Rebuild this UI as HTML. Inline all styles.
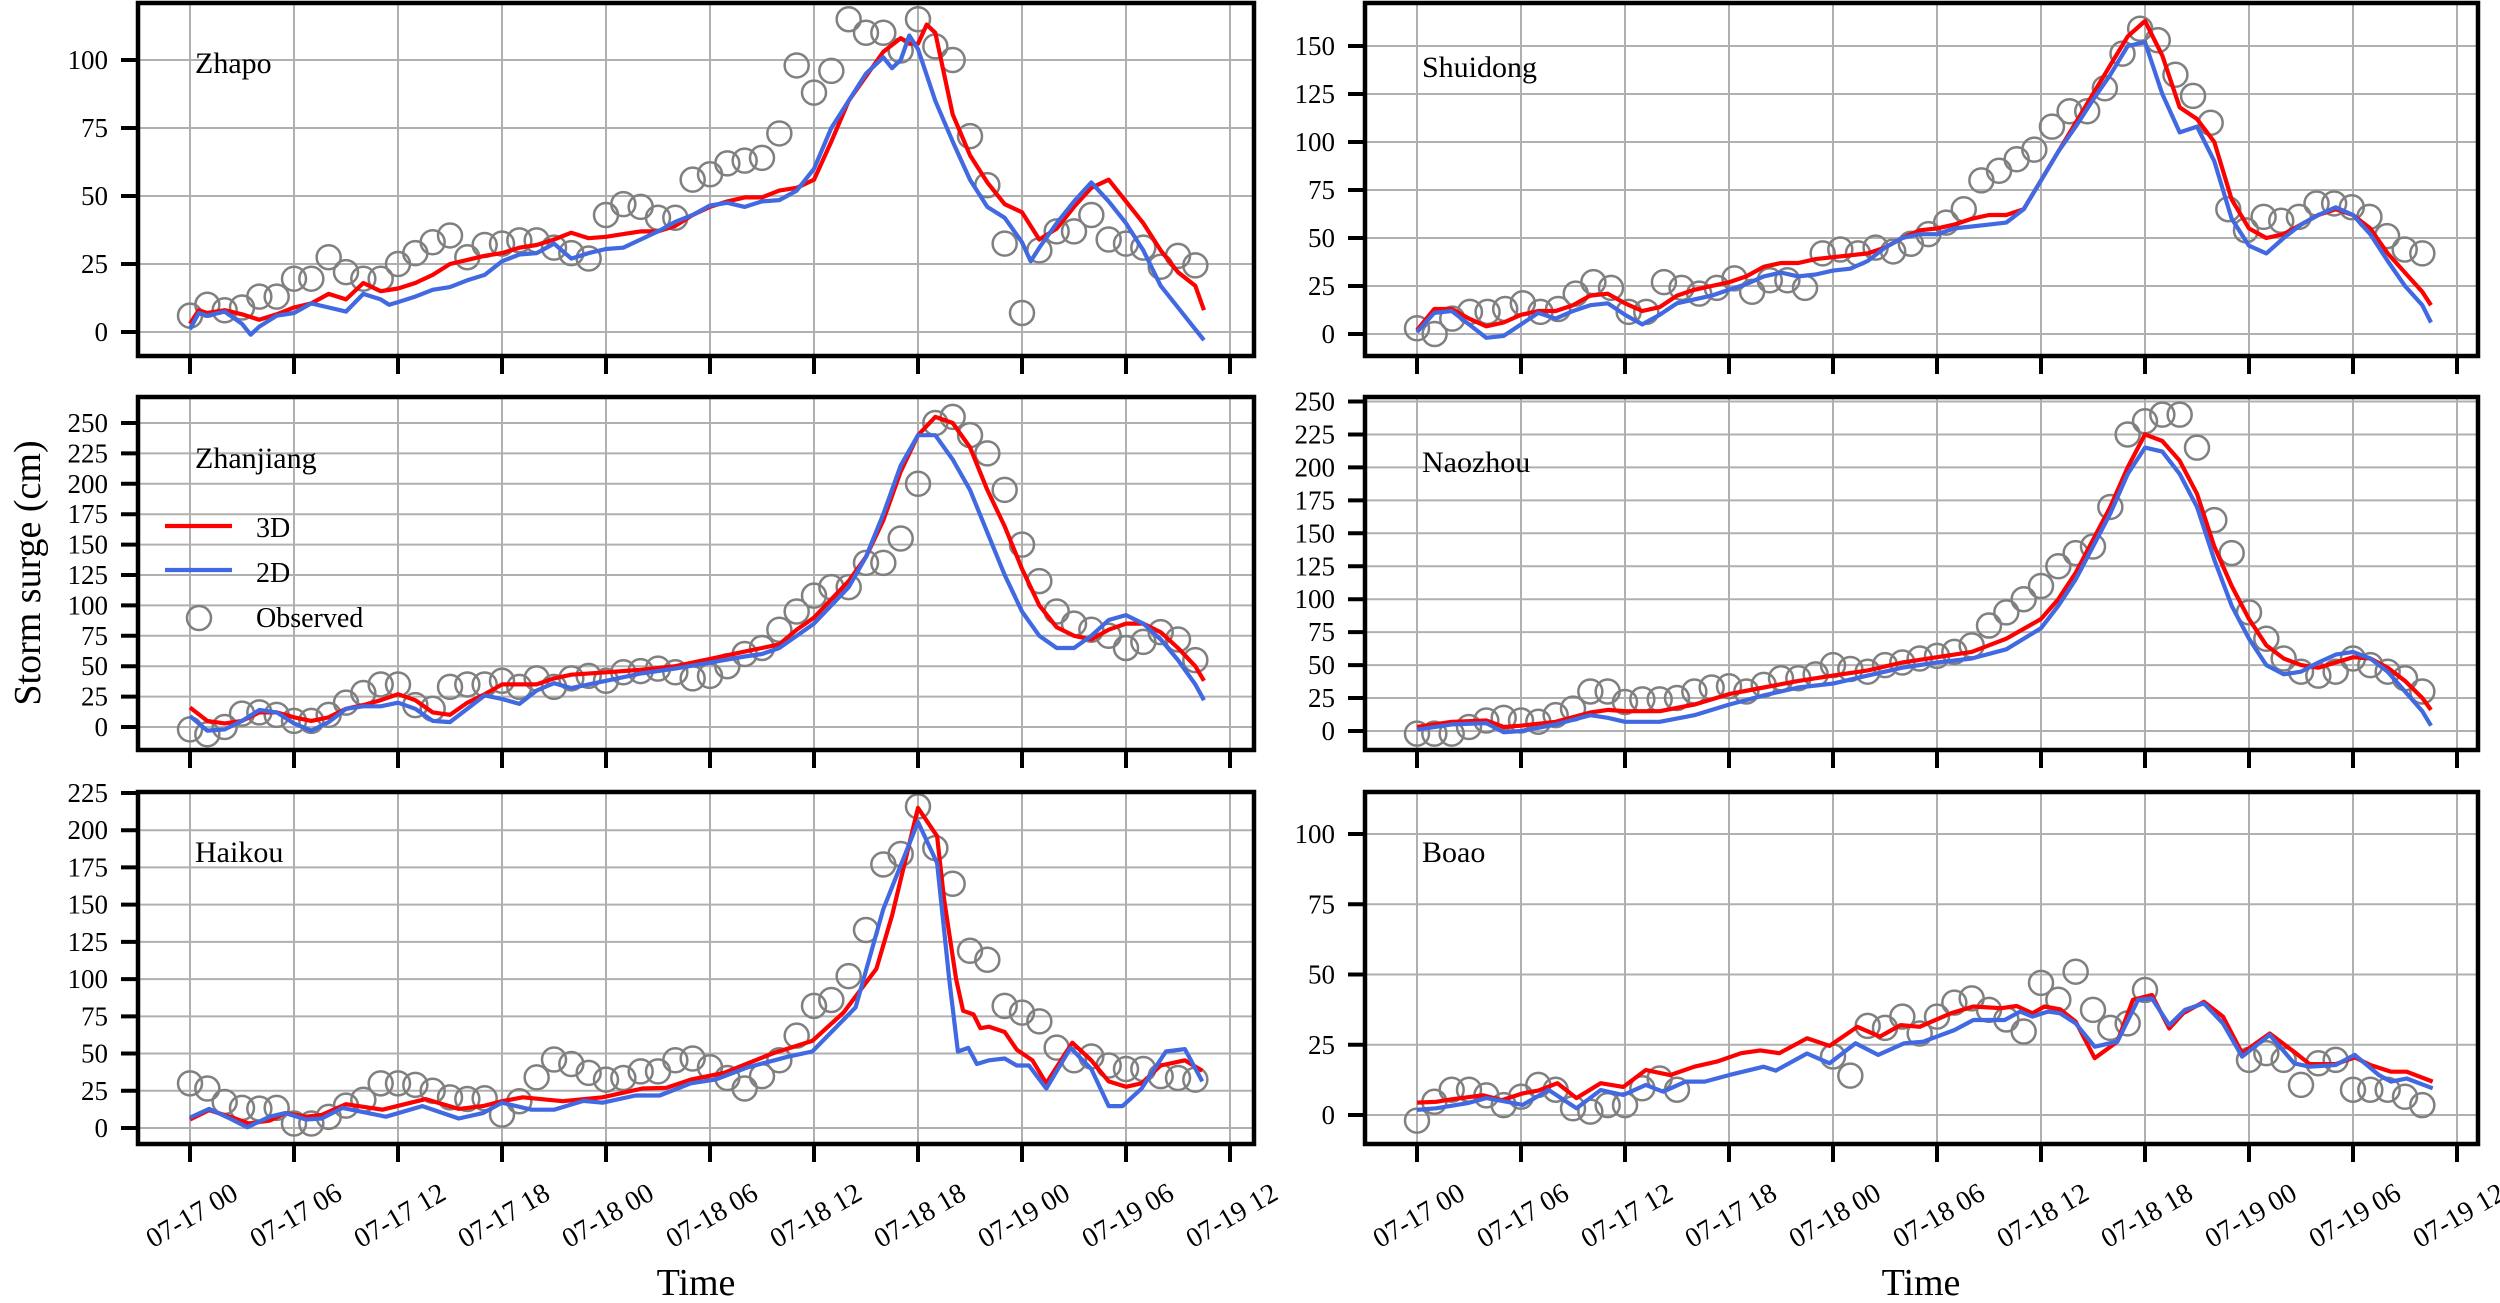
<!DOCTYPE html>
<html><head><meta charset="utf-8">
<style>
html,body{margin:0;padding:0;background:#fff;}
svg{display:block;}
text{font-family:"Liberation Serif","DejaVu Serif",serif;fill:#000;}
</style></head>
<body>
<svg id="s" xmlns="http://www.w3.org/2000/svg" width="2500" height="1303" viewBox="0 0 2500 1303">
<rect width="2500" height="1303" fill="#fff"/>
<g id="plots"></g>
<g font-size="30">
<text x="195" y="73">Zhapo</text>
<text x="1422" y="77">Shuidong</text>
<text x="195" y="468">Zhanjiang</text>
<text x="1422" y="472">Naozhou</text>
<text x="195" y="862">Haikou</text>
<text x="1422" y="862">Boao</text>
</g>
<g font-size="28">
<line x1="165" y1="526" x2="232" y2="526" stroke="#ff0000" stroke-width="4.2"/>
<line x1="165" y1="570" x2="232" y2="570" stroke="#4169e1" stroke-width="4.2"/>
<circle cx="199" cy="618" r="12" fill="none" stroke="#808080" stroke-width="2.5"/>
<text x="256" y="537">3D</text>
<text x="256" y="582">2D</text>
<text x="256" y="627">Observed</text>
</g>
<g font-size="27" text-anchor="end" id="yt"></g>
<g font-size="28" text-anchor="middle">
<g id="xl"></g>
</g>
<text x="696" y="1295" font-size="38" text-anchor="middle">Time</text>
<text x="1921" y="1295" font-size="38" text-anchor="middle">Time</text>
<text transform="translate(40,573) rotate(-90)" font-size="38" text-anchor="middle">Storm surge (cm)</text>
</svg>
<script>
var NS="http://www.w3.org/2000/svg";
function el(p,n,a){var e=document.createElementNS(NS,n);for(var k in a)e.setAttribute(k,a[k]);p.appendChild(e);return e;}
function pairs(a){var r=[];for(var i=0;i<a.length;i+=2)r.push([a[i],a[i+1]]);return r;}
var P=[
{x0:138,x1:1254,t:3,b:356,z:332,k:2.72,max:100,
 obs:[6,10,8,9,13,13,19.6,19.6,27.5,22,19.6,19.6,25,29,33,35.5,27.5,32,32.5,33.7,33.7,31,29,27,43,47,46,42,42,56,58,62,63,64,73,98,88,96,115,110,110,103.5,115,105,100,72,54,32.5,7,30,37,37,43,34,32.5,31,24,28,24.5],
 r:[0,3,.5,8,1,7,2,8,3,6.5,4,4.5,5,6.5,6,9,7,10.5,8,14,9,12,10,18,11,15,12,16,13,18,14,21,15,25,16,26.5,17,28,18,29,19,31,20,32,21,34,22,36.5,23,34.5,24,35,25,36,26,37,27,37,28,39,29,43,30,46,31,48,32,49.5,33,49.5,34,52,35,53,36,56,37,70,38,85,39,94,40,103,41,108,41.5,106,42,106,42.5,113,43,110,43.5,95,44,80,45,65,46,55,47,47,48,44,49,34,50,38,51,46,52,53,53,56,54,48,55,40,56,30,57,22,58,17,58.5,8],
 bl:[0,1,.5,7,1,6,2,7.5,3,3,3.5,-1,4,2,5,6,6,7,7,10.5,8,9,9,7.5,10,14,11,12,11.5,10,12,11,13,13,14,15.5,15,16.5,16,19,17,21,18,26,19,28.5,20,29,21,32.5,22,27,23,29,24,30.5,25,31,26,34,27,37,28,40.5,29,43,30,46.5,31,47.5,32,46,33,48,34,48.5,35,52,36,60,37,75,38,85,39,95,40,101,40.5,97,41,100,41.5,109,42,104,43,85,44,70,45,56,46,46,47,42,48,33,48.5,26,49,31,50,40,51,48,52,55,53,48,54,40,55,30,56,17,57,9,58,1,58.5,-3]},
{x0:138,x1:1254,t:397,b:750,z:727,k:1.216,max:250,
 obs:[-2,-6,0,11,12,10,5,5,10,20,28,35,35,18,15,33,35,35,38,33,40,33,40,42,38,45,46,48,45,40,42,50,60,65,80,95,108,115,115,135,135,155,200,250,255,240,225,195,150,120,95,85,80,75,65,70,78,72,55],
 r:[0,16,1,5,2,3,3,5,4,12,5,12,6,8,7,5,8,8,9,15,10,18,11,22,12,27,13,22,14,12,15,10,16,20,17,27,18,35,19,35,20,35,21,40,22,43,24,45,26,47,28,50,30,56,32,62,33,65,34,68,35,80,36,90,37,105,38,120,39,140,40,170,41,210,42,240,43,255,44,250,45,230,46,195,47,165,48,130,49,100,50,82,51,75,52,72,53,80,54,85,55,85,56,78,57,65,58,50,58.5,38],
 bl:[0,9,1,-3,2,-2,3,5,4,14,5,12,6,3,7,-3,8,4,9,15,10,17,11,17,12,20,13,15,14,5,15,4,16,15,17,26,18,23,19,19,20,30,21,36,22,32,24,38,26,44,28,48,30,53,32,58,33,60,34,65,35,75,36,85,37,100,38,115,39,140,40,175,41,215,42,240,43,240,44,220,45,195,46,160,47,125,48,95,49,75,50,65,51,65,52,75,53,88,54,92,55,85,56,72,57,55,58,35,58.5,22]},
{x0:138,x1:1254,t:792,b:1144,z:1128,k:1.489,max:225,
 obs:[30,26.5,17.5,13.5,13,13.5,3,3,7.5,15,19,30,30,29,25,20.6,19.5,20,9,18,34,46,43,37,32.5,33.6,38,38,45.5,46.7,40.8,33.6,26.5,34.8,45.5,62,82,86,102,133,177,184,216,188,164,119,113,82,77.5,71.6,54,45.5,48,42,39.6,39.6,34.8,33.6,32.5],
 r:[0,5.7,1.1,12,2.3,7.6,3.4,3,4.6,5,5.5,10,6.7,7.6,7.6,8.8,9,16,11.1,12.3,13.6,19.4,15.5,12.8,16.9,14.7,18,18,19.2,20.6,21.5,18,23.8,20.6,26.1,26.5,27.5,27,28.9,32.5,30.8,37,33.6,50,35.9,58.5,37.7,77.5,39.6,107,40.5,142.6,42,215,43.1,196,43.5,154,44.2,100,44.6,78.7,45.2,76.3,45.6,67,46.1,68,47,64.5,47.7,52.6,48.6,45.5,49.4,30,50.9,57.3,52,45.5,53,31.3,54,27.7,54.9,30,56,42,57.4,45.5,58.4,38.4],
 bl:[0,7,1.1,12.8,2.3,6.4,3.3,.5,4.6,7.6,5.5,10,6.7,5.7,7.6,6.4,8.8,13.5,11.3,7.6,13.4,14.7,15.5,6.4,16.9,10,18,17,19.7,12.3,21,12.3,22.7,18.2,23.8,17,25.7,21.8,27.1,21.8,28.9,30,30.3,32.5,32.2,40.8,34.5,47.9,35.9,51.4,38.4,81,40,147,42,205.5,43.1,178,43.8,100,44.3,51.4,44.9,53.8,45.4,43,46.1,45.5,47,46.7,47.7,42,48.4,42,49.4,26.5,50.8,53.8,52,39.6,53,14.7,53.8,14.7,54.9,26.5,56.3,51.4,57.4,53,58.4,31.3]},
{x0:1365,x1:2478,t:3,b:356,z:334,k:1.92,max:150,oscale:58/57,
 obs:[3,0,8,11.5,11.5,13,16,11.5,13,21,27,24,11.5,11.5,27,24,21,24,29,22,28,28,24,42,44,42,45,43,47,52,58,65,80,85,91,96,108,116,116,128,146,159,153,135,124,110,65,54,61,59,61,68,68,66,61,51,44,42],
 r:[0,2,1,13,2,13,3,8,4,4,5,6,6,10,7,12,8,12,9,15,10,20,11,21,12,16,13,12,14,14,15,20,16,23,17,25,18,27,19,30,20,35,21,37,22,37,23,39,24,40,25,41,26,42,27,45,28,50,29,54,30,55,31,57,32,60,33,62,34,62,35,65,36,80,37,95,38,110,39,125,40,140,41,155,42,163,43,145,44,118,45,112,46,100,47,70,48,55,49,50,50,52,51,57,52,62,53,65,54,62,55,55,56,42,57,32,58,22,58.5,15],
 bl:[0,1,1,11,2,12,3,5,4,-2,5,-1,6,5,7,11,8,8,9,12,10,15,11,16,12,10,13,5,14,10,15,16,16,18,17,20,18,23,19,26,20,30,21,32,22,30,23,31,24,33,25,34,26,38,27,45,28,50,29,52,30,52,31,55,32,56,33,57,34,58,35,65,36,80,37,95,38,108,39,122,40,135,41,150,42,152,43,125,44,105,45,108,46,90,47,60,48,46,49,42,50,50,51,57,52,62,53,66,54,62,55,52,56,38,57,25,58,15,58.5,6]},
{x0:1365,x1:2478,t:397,b:750,z:731,k:1.318,max:250,
 obs:[-2,-2,-2,3,8,10,8,7,12,17,30,30,22,24,24,25,30,33,34,30,35,40,40,43,50,47,45,50,52,55,57,60,65,80,90,100,110,125,135,140,170,225,235,240,240,215,160,135,90,70,55,45,42,45,55,50,45,40,30],
 r:[0,3,2,7,4,8,5,3,6,4,8,7,10,14,11,16,12,15,14,15,16,20,18,28,20,33,22,38,24,42,26,46,28,52,30,56,32,60,34,70,36,85,37,100,38,120,39,145,40,170,41,200,42,225,43,220,44,205,45,180,46,140,47,110,48,85,49,65,50,55,51,50,52,48,53,52,54,56,55,55,56,48,57,38,58,25,58.5,16],
 bl:[0,1,2,5,4,6,5,-1,6,0,8,5,10,12,11,10,12,7,14,7,16,12,18,20,20,27,22,33,24,36,26,42,28,48,30,52,32,55,34,62,36,78,37,95,38,115,39,140,40,165,41,195,42,215,43,212,44,195,45,170,46,130,47,95,48,70,49,50,50,43,51,45,52,52,53,58,54,60,55,55,56,45,57,30,58,15,58.5,4]},
{x0:1365,x1:2478,t:792,b:1144,z:1115,k:2.81,max:100,
 obsp:[0,-2,1,4.7,2,9,3,9,4,7,5,3.5,6,6.5,7,10.7,8,9,9,2.4,10,1.2,11,3.5,12,3.5,13,9.5,14,13,15,9,24,20.8,25,14,26,31.7,27,31,28,35,29,29,30,35,31,40,32,41.5,33,37.4,34,34,35,29.7,36,47,37,41,38,51,39,37.4,40,31,41,32.6,42,44.5,48,19.6,49,22,50,19.6,51,10.7,52,18.4,53,19.6,54,9,55,9,56,9,57,6.5,58,3.5],
 r:[0,4.4,1.1,4.7,2,5.6,3.8,7,4.9,5.3,6.1,7.7,7,8.7,8.1,11.3,9.2,6,10.6,11.3,11.9,10,13.2,16,14.6,14.2,16,17.2,17.3,19,18.7,22,19.8,23,20.9,22,22.5,27.3,23.8,24.6,25.4,31.4,26.7,27.9,27.9,32,29,31.4,30.8,36.2,32.1,38.6,33.7,38,34.6,38.8,35.5,36.2,36.2,38.6,37.1,37.6,38,33.2,39.1,20.2,40.4,26.1,41.3,41,42.4,42.7,43.4,30.8,44.2,36.2,45.4,40.3,46.5,35,47.6,22,49.2,29,50.6,22.5,51.5,18.1,53,18.1,54.1,20.5,55,17.8,56.2,15.4,57.1,15.4,58.6,11.9],
 bl:[0,1.8,1.1,2.4,2.9,4.2,4,6,5.2,4.7,6.1,3.6,7.6,8.9,9.2,2.4,10.6,8.9,11.9,7.1,13.2,10.7,14.2,8.3,15.5,11.9,16.6,11.9,18,14.2,20,17.2,20.7,15.8,22.5,21.9,23.8,18.4,25.3,25.5,26.6,21.4,28.1,25.5,29.2,26.1,31,30.2,32.1,33.8,33.9,33.8,34.8,36.8,35.5,35,36.4,36.8,37.1,36.2,38,32.6,39.1,24.3,40.4,26.1,41.6,41,42.4,41.5,43.4,32,44.3,37.4,45.4,39.7,46.5,32.6,47.6,20.8,49.2,28.5,50.6,18.4,51.5,17.2,53,17.8,54.1,21.4,55.5,14.2,56.2,11.9,57.1,13,58.6,9.5]}
];
var g=document.getElementById("plots"),yt=document.getElementById("yt"),xl=document.getElementById("xl");
var labs=["07-17 00","07-17 06","07-17 12","07-17 18","07-18 00","07-18 06","07-18 12","07-18 18","07-19 00","07-19 06","07-19 12"];
P.forEach(function(p){
 var X=function(h){return p.x0+52+h*104/6;}, Y=function(v){return p.z-v*p.k;};
 var gr=el(g,"g",{stroke:"#b0b0b0","stroke-width":"2"});
 for(var i=0;i<=10;i++){var x=X(i*6);el(gr,"line",{x1:x,y1:p.t,x2:x,y2:p.b});
  el(g,"line",{x1:x,y1:p.b,x2:x,y2:p.b+18,stroke:"#000","stroke-width":"4"});
  if(p.b>1100){var t=el(xl,"text",{transform:"translate("+(x+2)+",1216) rotate(-30)","dominant-baseline":"central"});t.textContent=labs[i];}}
 for(var v=0;v<=p.max;v+=25){var y=Y(v);el(gr,"line",{x1:p.x0,y1:y,x2:p.x1,y2:y});
  el(g,"line",{x1:p.x0-17,y1:y,x2:p.x0,y2:y,stroke:"#000","stroke-width":"4"});
  var t=el(yt,"text",{x:p.x0-30,y:y+9});t.textContent=v;}
 var cg=el(g,"g",{fill:"none",stroke:"#808080","stroke-width":"2.5"});
 var op=p.obsp?pairs(p.obsp):p.obs.map(function(v,i){return [i*(p.oscale||1),v];});
 op.forEach(function(o){el(cg,"circle",{cx:X(o[0]),cy:Y(o[1]),r:12});});
 [["r","#ff0000"],["bl","#4169e1"]].forEach(function(s){
  var pts=pairs(p[s[0]]).map(function(q){return X(q[0]).toFixed(1)+","+Y(q[1]).toFixed(1);}).join(" ");
  el(g,"polyline",{points:pts,fill:"none",stroke:s[1],"stroke-width":"4.2","stroke-linejoin":"round"});});
 el(g,"rect",{x:p.x0,y:p.t,width:p.x1-p.x0,height:p.b-p.t,fill:"none",stroke:"#000","stroke-width":"4.5"});
});
</script>
</body></html>
